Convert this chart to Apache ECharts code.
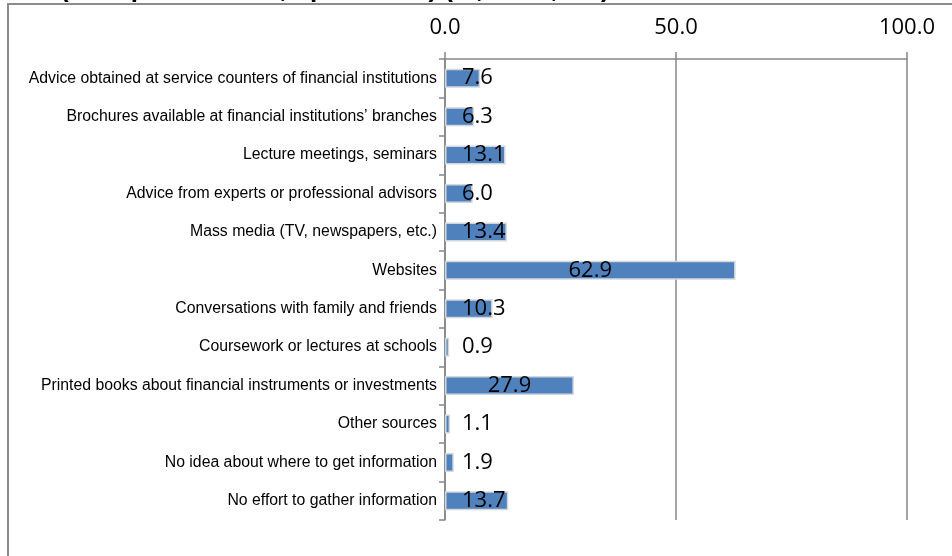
<!DOCTYPE html>
<html>
<head>
<meta charset="utf-8">
<script src="https://cdn.jsdelivr.net/npm/echarts@6/dist/echarts.min.js"></script>
<style>
  html, body { margin: 0; padding: 0; background: #fff; }
  #chart { width: 952px; height: 556px; }
</style>
</head>
<body>
<div id="chart"></div>
<script>
// 情報源カテゴリ（上から順）
var categories = [
  'Advice obtained at service counters of financial institutions',
  'Brochures available at financial institutions\u2019 branches',
  'Lecture meetings, seminars',
  'Advice from experts or professional advisors',
  'Mass media (TV, newspapers, etc.)',
  'Websites',
  'Conversations with family and friends',
  'Coursework or lectures at schools',
  'Printed books about financial instruments or investments',
  'Other sources',
  'No idea about where to get information',
  'No effort to gather information'
];
var values = [7.6, 6.3, 13.1, 6.0, 13.4, 62.9, 10.3, 0.9, 27.9, 1.1, 1.9, 13.7];
var axisTicks = [0, 50, 100];
var titleText = '(multiple answers, up to three) (%, n=25,000)';

var chart = echarts.init(document.getElementById('chart'));

// 長い棒はラベルを中央、短い棒は左寄せ
var barData = values.map(function (v) {
  var item = { value: v };
  if (v < 20) {
    item.label = { position: 'insideLeft', distance: 17 };
  }
  return item;
});

var option = {
  animation: false,
  graphic: [
    {
      type: 'rect',
      shape: { x: 8, y: 4, width: 1200, height: 1000 },
      style: { fill: 'none', stroke: '#8c8c8c', lineWidth: 2 },
      z: 0
    },
    {
      type: 'text',
      x: 60,
      y: -23,
      style: {
        text: titleText,
        font: 'bold 26px "Liberation Sans", Arial, sans-serif',
        fill: '#000'
      },
      z: 1
    }
  ],
  grid: { left: 445, right: 45, top: 59, bottom: 36, containLabel: false },
  xAxis: {
    type: 'value',
    position: 'top',
    min: axisTicks[0],
    max: axisTicks[axisTicks.length - 1],
    interval: 50,
    axisLine: { show: true, lineStyle: { color: '#868686', width: 1.5 } },
    axisTick: { show: true, length: 7, lineStyle: { color: '#868686', width: 1.5 } },
    splitLine: { show: true, lineStyle: { color: '#868686', width: 1.5 } },
    axisLabel: {
      margin: 20,
      fontSize: 22,
      fontFamily: '"Open Sans", "Noto Sans", sans-serif',
      color: '#000',
      formatter: function (v) { return v.toFixed(1); }
    }
  },
  yAxis: {
    type: 'category',
    inverse: true,
    data: categories,
    axisLine: { show: true, lineStyle: { color: '#868686', width: 1.5 } },
    axisTick: { show: true, length: 6, lineStyle: { color: '#868686', width: 1.5 } },
    axisLabel: {
      margin: 8,
      fontSize: 15.8,
      fontFamily: '"Liberation Sans", Arial, sans-serif',
      color: '#000'
    }
  },
  series: [
    {
      type: 'bar',
      data: barData,
      barWidth: 19,
      itemStyle: { color: '#4F81BD', borderColor: '#d3d8de', borderWidth: 1.5 },
      label: {
        show: true,
        position: 'inside',
        color: '#000',
        fontSize: 22,
        fontFamily: '"Open Sans", "Noto Sans", sans-serif',
        formatter: function (p) { return p.value.toFixed(1); }
      }
    }
  ]
};

chart.setOption(option);
</script>
</body>
</html>
